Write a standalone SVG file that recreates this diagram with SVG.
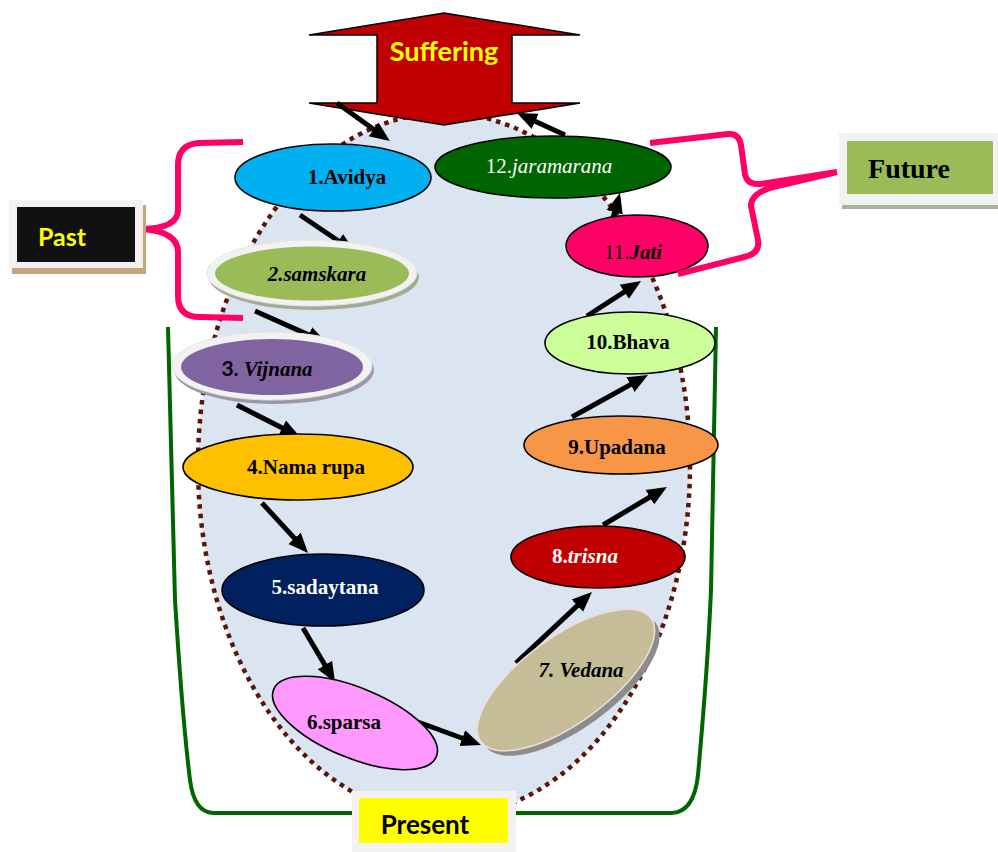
<svg xmlns="http://www.w3.org/2000/svg" width="998" height="852" viewBox="0 0 998 852">
<style>
.n{stroke:#000;stroke-width:1.6}
.t{font-family:"Liberation Serif","Times New Roman",serif;font-size:21px;font-weight:bold;text-anchor:middle}
.i{font-style:italic}
.r{font-weight:normal}
.lb{font-family:Lato,"Open Sans",sans-serif;font-weight:bold;text-anchor:middle}
.c{stroke:#000;stroke-width:5;fill:none;marker-end:url(#ah)}
.br{fill:none;stroke:#ff0066;stroke-width:6;stroke-linejoin:round;stroke-linecap:butt}
</style>
<defs>
<marker id="ah" viewBox="0 0 10 10" refX="7" refY="5" markerWidth="4" markerHeight="4" orient="auto">
<path d="M0,0.8 L10,5 L0,9.2 Z" fill="#000"/>
</marker>
</defs>
<rect width="998" height="852" fill="#fff"/>
<g id="cycle-background">
<ellipse cx="444" cy="465" rx="246" ry="352" fill="#dbe5f1" stroke="#5a1508" stroke-width="4.5" stroke-dasharray="4.5 5"/>
</g>
<g id="present-bracket">
<path d="M168,327 L175,600 C180,680 185,740 190,780 Q194,812 213,813 L672,813 Q694,812 698,775 C703,720 708,660 711,590 L716,327" fill="none" stroke="#006600" stroke-width="4"/>
</g>
<g id="suffering">
<path d="M444,13 L580,35 L512,35 L512,103 L580,103 L444,125 L309,103 L377,103 L377,35 L309,35 Z" fill="#c00000" stroke="#000" stroke-width="1.5" stroke-linejoin="miter"/>
<text class="lb" x="444" y="61" style="font-size:27px" fill="#ffff00">Suffering</text>
</g>
<g id="connectors">
<line class="c" x1="337" y1="103" x2="385" y2="137.5"/>
<line class="c" x1="300" y1="215" x2="350" y2="248.7"/>
<line class="c" x1="255" y1="311" x2="321.5" y2="340.6"/>
<line class="c" x1="237" y1="405" x2="294.7" y2="434.3"/>
<line class="c" x1="262" y1="503" x2="304" y2="548.6"/>
<line class="c" x1="303" y1="628" x2="332" y2="677"/>
<line class="c" x1="407" y1="718" x2="475.4" y2="743"/>
<line class="c" x1="516" y1="663" x2="587.6" y2="596.1"/>
<line class="c" x1="603" y1="525" x2="661.8" y2="490"/>
<line class="c" x1="572" y1="417" x2="642.7" y2="377.9"/>
<line class="c" x1="587" y1="316" x2="636" y2="284.3"/>
<line class="c" x1="611" y1="225" x2="618.4" y2="198.8"/>
<line class="c" x1="565" y1="135" x2="522.5" y2="115.5"/>
</g>
<g id="n1">
<ellipse class="n" cx="333" cy="177.5" rx="98" ry="33.5" fill="#00b0f0"/>
<text class="t" x="347" y="184">1.Avidya</text>
</g>
<g id="n2">
<ellipse cx="314" cy="277" rx="105" ry="33" fill="#a3ab94"/>
<ellipse cx="312" cy="273" rx="105" ry="33" fill="#f2f2f2" stroke="#e3e3e3" stroke-width="1"/>
<ellipse cx="312" cy="273.5" rx="97" ry="27" fill="#9bbb59"/>
<text class="t i" x="317" y="281">2.samskara</text>
</g>
<g id="n3">
<ellipse cx="274" cy="370" rx="100" ry="34" fill="#9a97a8"/>
<ellipse cx="272" cy="366" rx="100" ry="34" fill="#f2f2f2" stroke="#e3e3e3" stroke-width="1"/>
<ellipse cx="272" cy="367" rx="91" ry="28" fill="#8064a2"/>
<text class="t" x="267" y="376"><tspan font-family="Lato,sans-serif">3. </tspan><tspan class="i">Vijnana</tspan></text>
</g>
<g id="n4">
<ellipse class="n" cx="298" cy="467" rx="115" ry="33" fill="#ffc000"/>
<text class="t" x="306" y="474">4.Nama rupa</text>
</g>
<g id="n5">
<ellipse class="n" cx="323" cy="590" rx="101" ry="36" fill="#002060"/>
<text class="t" x="325" y="594" fill="#fff">5.sadaytana</text>
</g>
<g id="n6">
<ellipse class="n" cx="0" cy="0" rx="88" ry="35" fill="#ff99ff" transform="translate(355,723) rotate(22.5)"/>
<text class="t" x="344" y="729">6.sparsa</text>
</g>
<g id="n7">
<ellipse cx="0" cy="0" rx="105" ry="43" fill="#8c8c8c" transform="translate(571,685) rotate(-36)"/>
<ellipse cx="0" cy="0" rx="105" ry="43" fill="#c4bd97" stroke="#f2dcdb" stroke-width="1.5" transform="translate(566,680) rotate(-36)"/>
<text class="t i" x="581" y="677">7. Vedana</text>
</g>
<g id="n8">
<ellipse class="n" cx="598" cy="557" rx="87" ry="31" fill="#c00000"/>
<text class="t" x="585" y="563" fill="#fff">8.<tspan class="i">trisna</tspan></text>
</g>
<g id="n9">
<ellipse class="n" cx="621" cy="445" rx="97" ry="29" fill="#f79646"/>
<text class="t" x="617" y="454">9.Upadana</text>
</g>
<g id="n10">
<ellipse class="n" cx="630" cy="343" rx="85" ry="31" fill="#ccff99"/>
<text class="t" x="628" y="349">10.Bhava</text>
</g>
<g id="n11">
<ellipse class="n" cx="637" cy="246" rx="71" ry="31" fill="#ff0066"/>
<text class="t" x="633" y="259"><tspan class="r">11.</tspan><tspan class="i">Jati</tspan></text>
</g>
<g id="n12">
<ellipse class="n" cx="553" cy="167" rx="118" ry="31" fill="#006400"/>
<text class="t r" x="549" y="173" fill="#fff">12.<tspan class="i">jaramarana</tspan></text>
</g>
<g id="past">
<path class="br" d="M243,142 L198,143 Q178,145 178,165 L178,210 Q178,228 143,229 Q178,232 178,252 L178,296 Q178,317 200,317 L243,318"/>
<rect x="12" y="205" width="134" height="69" fill="#c9a27e"/>
<rect x="9" y="200" width="134" height="68" fill="#f2f2f2"/>
<rect x="17" y="207" width="118" height="55" fill="#111"/>
<text class="lb" x="62" y="246" style="font-size:25px" fill="#ffff00">Past</text>
</g>
<g id="future">
<path class="br" d="M650,143 L728,134 Q739,133 741,145 L745,174 Q747,185 760,184 L837,172 M837,172 L773,187 Q751,193 751,206 L758,240 Q760,252 748,256 L678,274"/>
<rect x="842" y="137" width="156" height="72" fill="#aab397"/>
<rect x="839" y="133" width="159" height="72" fill="#f2f2f2"/>
<rect x="847" y="141" width="146" height="53" fill="#9bbb59"/>
<text class="t" x="909" y="178" style="font-size:28px">Future</text>
</g>
<g id="present">
<rect x="352" y="791" width="164" height="61" fill="#f2f2f2"/>
<rect x="359" y="798" width="149" height="45" fill="#ffff00"/>
<text class="lb" x="425" y="834" style="font-size:26px" fill="#000">Present</text>
</g>
</svg>
